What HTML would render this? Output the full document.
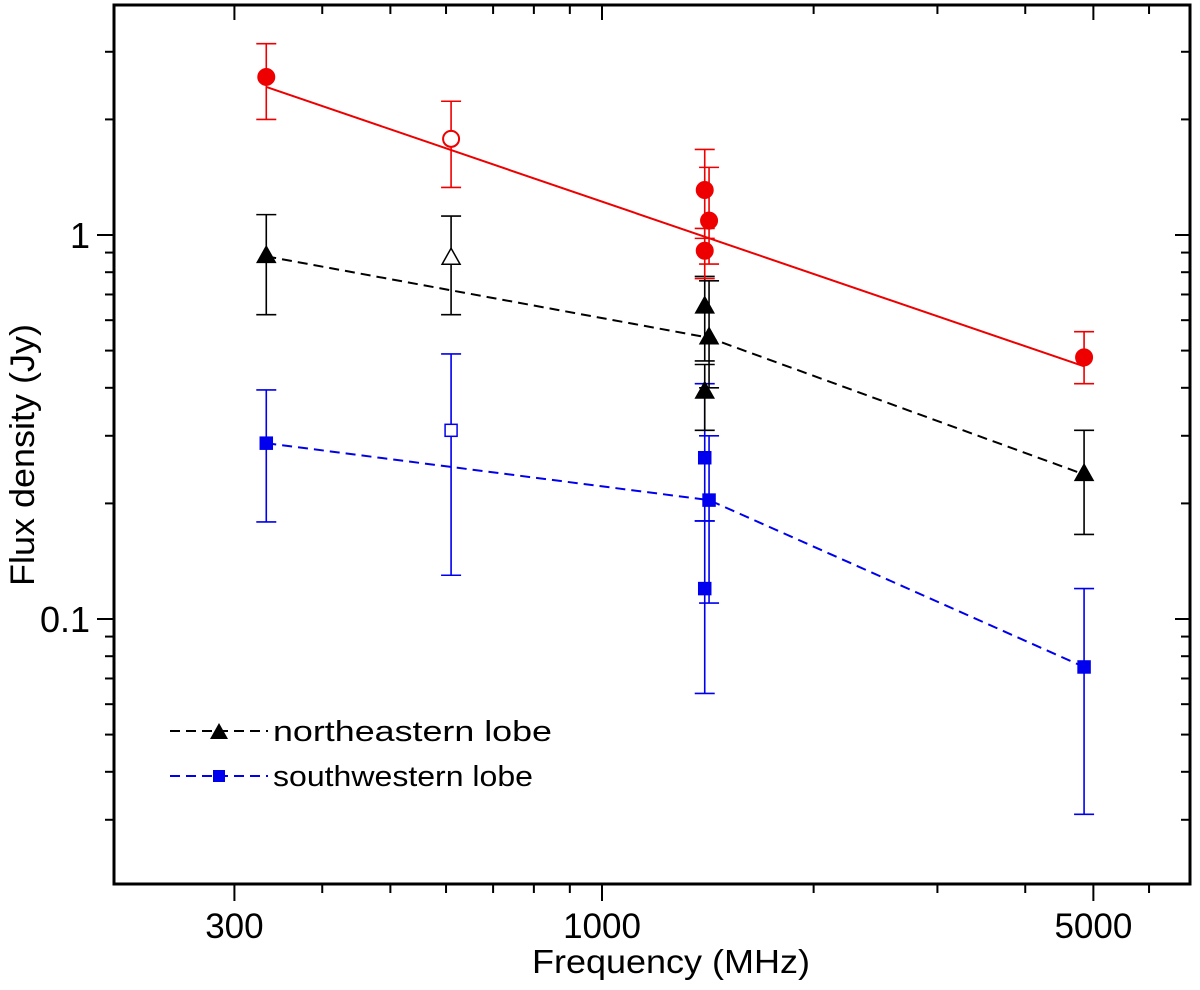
<!DOCTYPE html>
<html><head><meta charset="utf-8"><style>
body{margin:0;background:#fff;}
svg text{font-family:"Liberation Sans",Arial,sans-serif;}
</style></head><body>
<svg id="chart" width="1200" height="985" viewBox="0 0 1200 985" xmlns="http://www.w3.org/2000/svg">
<g id="axes"></g>
<g id="series"></g>
<text x="34" y="455" font-size="34" text-anchor="middle" textLength="262" lengthAdjust="spacingAndGlyphs" transform="rotate(-90 34 455)">Flux density (Jy)</text>
<text x="671" y="973" font-size="33" text-anchor="middle" textLength="278" lengthAdjust="spacingAndGlyphs">Frequency (MHz)</text>
<g>
<line x1="170" y1="731" x2="268" y2="731" stroke="#000" stroke-width="2" stroke-dasharray="10,6"/>
<polygon points="219,723 228,739 210,739" fill="#000"/>
<text x="273" y="741" font-size="29" textLength="279" lengthAdjust="spacingAndGlyphs">northeastern lobe</text>
<line x1="170" y1="776" x2="268" y2="776" stroke="#0000ee" stroke-width="2" stroke-dasharray="10,6"/>
<rect x="213" y="770" width="12" height="12" fill="#0000ee"/>
<text x="273" y="786" font-size="29" textLength="260" lengthAdjust="spacingAndGlyphs">southwestern lobe</text>
</g>
</svg>
<script>
const NS='http://www.w3.org/2000/svg';
// data
const xTickValues=[300,1000,5000];
const xTickLabels=['300','1000','5000'];
const yTickValues=[0.1,1];
const yTickLabels=['0.1','1'];
const redFreq=[333,610,1400,1420,1400,4850];
const redVal=[2.58,1.78,1.31,1.09,0.91,0.48];
const redHi=[3.15,2.23,1.67,1.50,1.04,0.56];
const redLo=[2.00,1.33,0.98,0.84,0.77,0.41];
const redOpen=[false,true,false,false,false,false];
const redFitFreq=[333,4850];
const redFitVal=[2.43,0.455];
const neFreq=[333,610,1400,1420,1400,4850];
const neVal=[0.88,0.87,0.65,0.54,0.39,0.238];
const neHi=[1.13,1.12,0.78,0.76,0.46,0.31];
const neLo=[0.62,0.62,0.47,0.40,0.31,0.166];
const neOpen=[false,true,false,false,false,false];
const neLineFreq=[333,1420,4850];
const neLineVal=[0.88,0.54,0.238];
const swFreq=[333,610,1400,1420,1400,4850];
const swVal=[0.287,0.31,0.263,0.204,0.12,0.075];
const swHi=[0.395,0.49,0.41,0.30,0.18,0.12];
const swLo=[0.179,0.13,0.18,0.11,0.064,0.031];
const swOpen=[false,true,false,false,false,false];
const swLineFreq=[333,1420,4850];
const swLineVal=[0.287,0.204,0.075];

const X0=114,X1=1190,Y0=5,Y1=884;
const xs=f=>602+703*Math.log10(f/1000);
const ys=v=>235-384*Math.log10(v);
function el(tag,attrs,parent){const e=document.createElementNS(NS,tag);for(const k in attrs)e.setAttribute(k,attrs[k]);parent.appendChild(e);return e;}
const ax=document.getElementById('axes');
let b=el('rect',{x:X0,y:Y0,width:X1-X0,height:Y1-Y0,fill:'none',stroke:'#000','stroke-width':3},ax);


const xMinor=[200,400,500,600,700,800,900,2000,3000,4000,6000,7000];
xMinor.forEach(f=>{const x=xs(f);if(x<X0||x>X1)return;
 let t=el('line',{x1:x,x2:x,y1:Y1,y2:Y1+9,stroke:'#000','stroke-width':2},ax);
 
 let t2=el('line',{x1:x,x2:x,y1:Y0,y2:Y0+9,stroke:'#000','stroke-width':2},ax);
 });
xTickValues.forEach((f,i)=>{const x=xs(f);
 let t=el('line',{x1:x,x2:x,y1:Y1,y2:Y1+17,stroke:'#000','stroke-width':2},ax);
 
 let t2=el('line',{x1:x,x2:x,y1:Y0,y2:Y0+15,stroke:'#000','stroke-width':2},ax);
 
 let tx=el('text',{x:x,y:938,'font-size':35,'text-anchor':'middle'},ax);tx.textContent=xTickLabels[i];
 });
const yMinor=[0.03,0.04,0.05,0.06,0.07,0.08,0.09,0.2,0.3,0.4,0.5,0.6,0.7,0.8,0.9,2,3];
yMinor.forEach(v=>{const y=ys(v);
 let t=el('line',{x1:X0-9,x2:X0,y1:y,y2:y,stroke:'#000','stroke-width':2},ax);
 
 let t2=el('line',{x1:X1-9,x2:X1,y1:y,y2:y,stroke:'#000','stroke-width':2},ax);
 });
yTickValues.forEach((v,i)=>{const y=ys(v);
 let t=el('line',{x1:X0-17,x2:X0,y1:y,y2:y,stroke:'#000','stroke-width':2},ax);
 
 let t2=el('line',{x1:X1-15,x2:X1,y1:y,y2:y,stroke:'#000','stroke-width':2},ax);
 
 let tx=el('text',{x:X0-24,y:y+13,'font-size':36,'text-anchor':'end'},ax);tx.textContent=yTickLabels[i];
 });

const sg=document.getElementById('series');
function line(fr,vals,color,dash,name){
 const p=fr.map((f,i)=>xs(f)+','+ys(vals[i])).join(' ');
 let l=el('polyline',{points:p,fill:'none',stroke:color,'stroke-width':2,'stroke-dasharray':dash},sg);
 }
function series(fr,val,hi,lo,open,color,shape,name){
 fr.forEach((f,i)=>{const x=xs(f),y=ys(val[i]),yh=ys(hi[i]),yl=ys(lo[i]);
  let e=el('path',{d:`M${x},${yh}V${yl}M${x-10},${yh}H${x+10}M${x-10},${yl}H${x+10}`,stroke:color,'stroke-width':1.6,fill:'none'},sg);
  
  const fill=open[i]?'#fff':color;let m;
  if(shape==='circle')m=el('circle',{cx:x,cy:y,r:8,fill:fill,stroke:color,'stroke-width':2},sg);
  else if(shape==='tri')m=el('polygon',{points:`${x},${y-10} ${x+9},${y+6} ${x-9},${y+6}`,fill:fill,stroke:color,'stroke-width':1.5},sg);
  else m=el('rect',{x:x-6,y:y-6,width:12,height:12,fill:fill,stroke:color,'stroke-width':1.5},sg);
  });}
line(redFitFreq,redFitVal,'#ee0000','none','total-fit-line');
line(neLineFreq,neLineVal,'#000','10,6','northeastern-line');
line(swLineFreq,swLineVal,'#0000ee','10,6','southwestern-line');
series(swFreq,swVal,swHi,swLo,swOpen,'#0000ee','sq','southwestern');
series(neFreq,neVal,neHi,neLo,neOpen,'#000','tri','northeastern');
series(redFreq,redVal,redHi,redLo,redOpen,'#ee0000','circle','total');
</script>
</body></html>
